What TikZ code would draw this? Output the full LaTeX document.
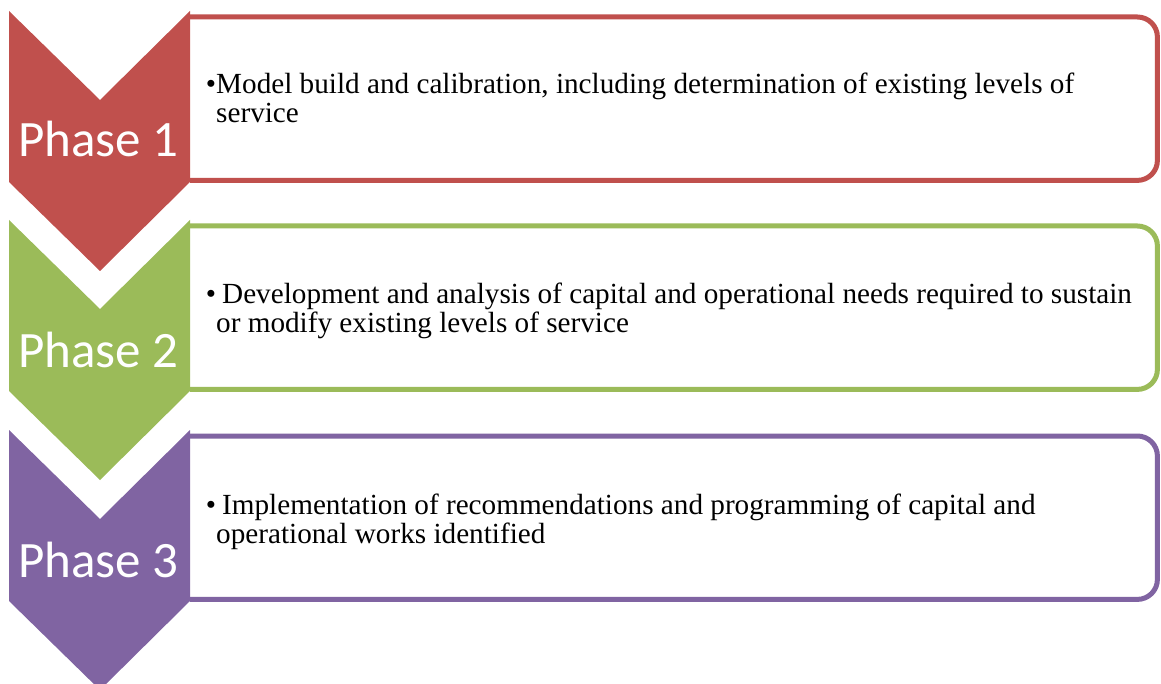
\documentclass[tikz,border=0pt]{standalone}
\usepackage{fontspec}
\usepackage{xcolor}
\usepackage{tikz}
\setmainfont{Liberation Serif}
\newfontfamily\phasefont{Carlito}
\usetikzlibrary{calc}
\definecolor{phasered}{HTML}{C0504D}
\definecolor{phasegreen}{HTML}{9BBB59}
\definecolor{phasepurple}{HTML}{8064A2}
\tikzstyle{taskframe} = [line width=5pt, rounded corners=20pt, fill=white]
\tikzstyle{taskarea} = [rectangle, inner sep=0pt, anchor=north west,
minimum width=967pt, minimum height=163pt]
\tikzstyle{tasktext} = [anchor=north west, align=left, inner sep=0pt,
font=\fontsize{29.2}{29}\selectfont]
\tikzstyle{phaselabel} = [text=white, inner sep=0pt, anchor=base,
font=\phasefont\fontsize{51}{51}\selectfont]

\begin{document}
\begin{tikzpicture}[x=1pt, y=-1pt]
        \useasboundingbox (0,0) rectangle (1161,684);
        % phase 1
        \node [taskarea] (box1) at (190,17) {};
        \draw [taskframe, draw=phasered] (box1.north west) -- (box1.north east)
            -- (box1.south east) -- (box1.south west);
        \fill [phasered] (9,11) -- (100,100) -- (190,11) -- (190,182)
            -- (100,271) -- (9,182) -- cycle;
        \node [phaselabel] (phase1) at (98.5,157) {Phase 1};
        \node [tasktext] (text1) at ($(box1.north west)+(26,56)$)
            {\llap{\textbullet}Model build and calibration, including determination of existing levels of\\
             service};
        % phase 2
        \node [taskarea] (box2) at (190,226) {};
        \draw [taskframe, draw=phasegreen] (box2.north west) -- (box2.north east)
            -- (box2.south east) -- (box2.south west);
        \fill [phasegreen] (9,220) -- (100,309) -- (190,220) -- (190,391)
            -- (100,480) -- (9,391) -- cycle;
        \node [phaselabel] (phase2) at (98.5,367) {Phase 2};
        \node [tasktext] (text2) at ($(box2.north west)+(26,57)$)
            {\llap{\textbullet}\hspace{6pt}Development and analysis of capital and operational needs required to sustain\\
             or modify existing levels of service};
        % phase 3
        \node [taskarea] (box3) at (190,436) {};
        \draw [taskframe, draw=phasepurple] (box3.north west) -- (box3.north east)
            -- (box3.south east) -- (box3.south west);
        \fill [phasepurple] (9,430) -- (100,519) -- (190,430) -- (190,601)
            -- (100,690) -- (9,601) -- cycle;
        \node [phaselabel] (phase3) at (98.5,577) {Phase 3};
        \node [tasktext] (text3) at ($(box3.north west)+(26,58)$)
            {\llap{\textbullet}\hspace{6pt}Implementation of recommendations and programming of capital and\\
             operational works identified};
\end{tikzpicture}
\end{document}
